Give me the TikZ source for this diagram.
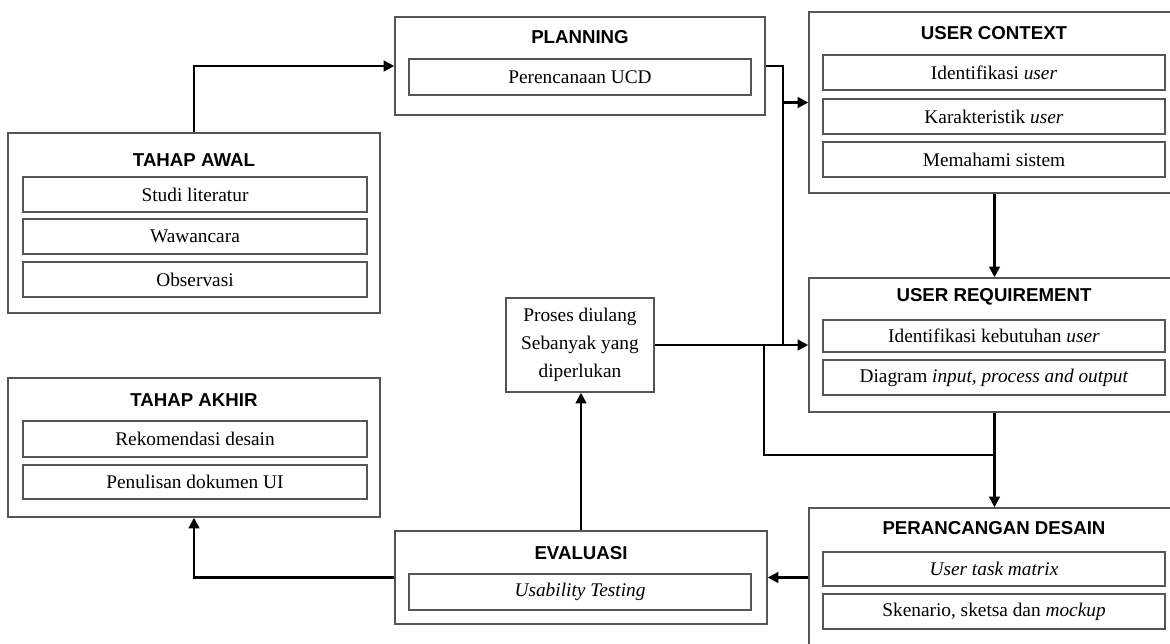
\documentclass[tikz,border=0pt]{standalone}
\usepackage{fontspec}
\setmainfont{Liberation Serif}
\newfontfamily\ttlfont{Liberation Sans}
\usetikzlibrary{arrows.meta}
\definecolor{boxgray}{HTML}{555555}
\tikzset{
  outerbox/.style={draw=boxgray, line width=1.1pt, fill=white, inner sep=0pt},
  itembox/.style={draw=boxgray, line width=1.1pt, inner sep=0pt, font=\fontsize{14.5}{21}\selectfont},
  ttl/.style={font=\ttlfont\bfseries\fontsize{14}{16}\selectfont},
  conn/.style={draw=black, line width=1.8pt, -{Triangle[length=8pt,width=8pt]}},
  wire/.style={draw=black, line width=1.8pt},
}
% \pbox[style]{name}{x1}{y1}{x2}{y2}{text}
\newcommand\pbox[7][]{%
  \node[#1, minimum width={(#5-#3)*0.75pt}, minimum height={(#6-#4)*0.75pt}]
    (#2) at ({(#3+#5)/2},{(#4+#6)/2}) {#7};}
\begin{document}
\begin{tikzpicture}[x=0.75pt,y=-0.75pt]
\clip (0,0) rectangle (1170,643);
\fill[white] (0,0) rectangle (1170,643);

% ---------- TAHAP AWAL ----------
\pbox[outerbox]{awal}{8}{133}{380}{313}{}
\node[ttl] (awalT) at (194,160) {TAHAP AWAL};
\pbox[itembox]{awal1}{23}{177}{367}{212}{Studi literatur}
\pbox[itembox]{awal2}{23}{219}{367}{254}{Wawancara}
\pbox[itembox]{awal3}{23}{262}{367}{297}{Observasi}

% ---------- TAHAP AKHIR ----------
\pbox[outerbox]{akhir}{8}{378}{380}{517}{}
\node[ttl] (akhirT) at (194,400) {TAHAP AKHIR};
\pbox[itembox]{akhir1}{23}{421}{367}{457}{Rekomendasi desain}
\pbox[itembox]{akhir2}{23}{465}{367}{499}{Penulisan dokumen UI}

% ---------- PLANNING ----------
\pbox[outerbox]{plan}{395}{17}{765}{115}{}
\node[ttl] (planT) at (580,37) {PLANNING};
\pbox[itembox]{plan1}{409}{59}{751}{95}{Perencanaan UCD}

% ---------- EVALUASI ----------
\pbox[outerbox]{eval}{395}{531}{767}{624}{}
\node[ttl] (evalT) at (581,553) {EVALUASI};
\pbox[itembox]{eval1}{409}{574}{751}{610}{\textit{Usability Testing}}

% ---------- PROSES ----------
\pbox[outerbox, align=center, font=\fontsize{14.5}{21}\selectfont]{proses}{506}{298}{654}{392}{Proses diulang\\Sebanyak yang\\diperlukan}

% ---------- USER CONTEXT ----------
\pbox[outerbox]{uc}{809}{12}{1180}{193}{}
\node[ttl] (ucT) at (994,33) {USER CONTEXT};
\pbox[itembox]{uc1}{823}{55}{1165}{90}{Identifikasi \textit{user}}
\pbox[itembox]{uc2}{823}{99}{1165}{134}{Karakteristik \textit{user}}
\pbox[itembox]{uc3}{823}{142}{1165}{177}{Memahami sistem}

% ---------- USER REQUIREMENT ----------
\pbox[outerbox]{ur}{809}{278}{1180}{412}{}
\node[ttl] (urT) at (994,297) {USER REQUIREMENT};
\pbox[itembox]{ur1}{823}{320}{1165}{352}{Identifikasi kebutuhan \textit{user}}
\pbox[itembox]{ur2}{823}{360}{1165}{395}{Diagram \textit{input, process and output}}

% ---------- PERANCANGAN DESAIN ----------
\pbox[outerbox]{pd}{809}{508}{1180}{660}{}
\node[ttl] (pdT) at (994,528) {PERANCANGAN DESAIN};
\pbox[itembox]{pd1}{823}{552}{1165}{586}{\textit{User task matrix}}
\pbox[itembox]{pd2}{823}{594}{1165}{629}{Skenario, sketsa dan \textit{mockup}}

% ---------- junctions ----------
\coordinate (j1) at (783,102.5);
\coordinate (j2) at (783,345);
\coordinate (j3) at (764,345);
\coordinate (j4) at (ur.south |- 0,455);

% ---------- connectors ----------
\draw[conn] (awal.north) |- (plan.west);
\draw[conn] (plan.east) -| (j1) -- (uc.west);
\draw[wire] (j1) -- (j2);
\draw[conn] (proses.east) -- (ur.west);
\draw[wire] (j3) |- (j4);
\draw[conn] (uc.south) -- (ur.north);
\draw[conn] (ur.south) -- (pd.north);
\draw[conn] (pd.west |- eval.east) -- (eval.east);
\draw[conn] (eval.north) -- (eval.north |- proses.south);
\draw[conn] (eval.west) -| (akhir.south);
\end{tikzpicture}
\end{document}
